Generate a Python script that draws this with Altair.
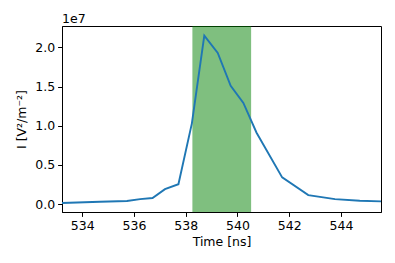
import altair as alt
import pandas as pd

# Data
time_ns = [533.22, 534.69, 535.73, 536.24, 536.72, 537.2, 537.72, 538.24, 538.72,
           539.24, 539.74, 540.23, 540.74, 541.73, 542.74, 543.77, 544.73, 545.55]
intensity_e7 = [0.013, 0.029, 0.038, 0.063, 0.076, 0.19, 0.253, 1.03, 2.15,
                1.93, 1.51, 1.29, 0.91, 0.34, 0.114, 0.063, 0.042, 0.034]
span_start = [538.26]
span_end = [540.53]
x_ticks = [534, 536, 538, 540, 542, 544]
y_ticks_e7 = [0.0, 0.5, 1.0, 1.5, 2.0]

df = pd.DataFrame({"t": time_ns, "I": [v * 1e7 for v in intensity_e7]})
span_df = pd.DataFrame({"a": span_start, "b": span_end})

FONT = "DejaVu Sans"
FS = 12.5

xscale = alt.Scale(domain=[533.22, 545.55], nice=False, zero=False)
yscale = alt.Scale(domain=[-0.102e7, 2.273e7], nice=False, zero=False)

span = alt.Chart(span_df).mark_rect(color="#008000", opacity=0.5).encode(
    x=alt.X("a:Q", scale=xscale),
    x2="b:Q",
)

line = alt.Chart(df).mark_line(color="#1f77b4", strokeWidth=1.9).encode(
    x=alt.X("t:Q", scale=xscale,
            axis=alt.Axis(values=x_ticks, title="Time [ns]", format="d")),
    y=alt.Y("I:Q", scale=yscale,
            axis=alt.Axis(values=[v * 1e7 for v in y_ticks_e7],
                          labelExpr="format(datum.value/1e7, '.1f')",
                          title="I [V²/m⁻²]")),
)

offset = alt.Chart(pd.DataFrame({"s": ["1e7"]})).mark_text(
    align="left", baseline="alphabetic", font=FONT, fontSize=FS, color="black"
).encode(x=alt.value(0), y=alt.value(-3), text="s:N")

chart = alt.layer(span, line, offset).properties(
    width=319, height=186,
    autosize=alt.AutoSizeParams(type="none"),
    padding={"left": 54, "top": 18, "right": 5, "bottom": 38},
).configure_view(
    stroke="black", strokeWidth=1
).configure_axis(
    grid=False,
    domainColor="black",
    domainWidth=1,
    tickColor="black",
    tickSize=4.4,
    tickWidth=1,
    labelPadding=3,
    labelFont=FONT,
    labelFontSize=FS,
    labelColor="black",
    titleFont=FONT,
    titleFontSize=FS,
    titleFontWeight="normal",
    titleColor="black",
).configure_axisX(
    titlePadding=4,
).configure_axisY(
    titlePadding=6,
)

chart.save("out.html", embed_options={"renderer": "svg", "actions": False})
